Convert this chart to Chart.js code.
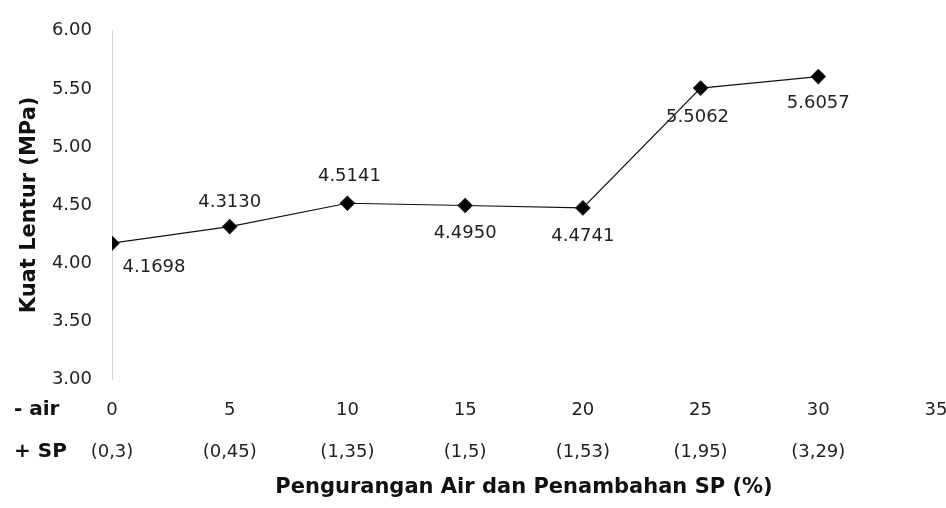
<!DOCTYPE html>
<html>
<head>
<meta charset="utf-8">
<title>Kuat Lentur</title>
<script src="https://cdn.jsdelivr.net/npm/chart.js@4/dist/chart.umd.min.js"></script>
<style>
    body { margin: 0; background: #fff; }
    #wrap { width: 946px; height: 508px; }
</style>
</head>
<body>
<div id="wrap"><canvas id="kuatChart"></canvas></div>
<script>
// pengurangan air (%) dan penambahan SP
var airValues = [0, 5, 10, 15, 20, 25, 30];
var spLabels = ['(0,3)', '(0,45)', '(1,35)', '(1,5)', '(1,53)', '(1,95)', '(3,29)'];
var kuatLentur = [4.1698, 4.3130, 4.5141, 4.4950, 4.4741, 5.5062, 5.6057];
var valueLabels = ['4.1698', '4.3130', '4.5141', '4.4950', '4.4741', '5.5062', '5.6057'];

// where each value text sits around its point (dx, dy)
var labelOffsets = [[42, 24], [0, -24], [2, -27], [0, 28], [0, 28], [-3, 29], [0, 27]];

var tickSize = 18;
var tickLine = 42;
var tickPad = 10;

Chart.defaults.font.family = "'DejaVu Sans', 'Liberation Sans', sans-serif";
Chart.defaults.color = '#222';

var points = [];
for (var i = 0; i < airValues.length; i++) {
    points.push({x: airValues[i], y: kuatLentur[i]});
}

var valueLabelPlugin = {
    id: 'valueLabels',
    afterDatasetsDraw: function (chart) {
        var ctx = chart.ctx;
        var meta = chart.getDatasetMeta(0);
        ctx.save();
        ctx.font = "18px 'DejaVu Sans'";
        ctx.fillStyle = '#222';
        ctx.textAlign = 'center';
        ctx.textBaseline = 'middle';
        meta.data.forEach(function (pt, idx) {
            var off = labelOffsets[idx];
            ctx.fillText(valueLabels[idx], pt.x + off[0], pt.y + off[1]);
        });
        ctx.restore();
    }
};

// "- air" / "+ SP" in front of the two tick rows
var rowLabelPlugin = {
    id: 'rowLabels',
    afterDraw: function (chart) {
        var ctx = chart.ctx;
        var xs = chart.scales.x;
        var row1 = xs.top + tickPad + tickLine / 2;
        ctx.save();
        ctx.font = "bold 20px 'DejaVu Sans'";
        ctx.fillStyle = '#111';
        ctx.textAlign = 'left';
        ctx.textBaseline = 'middle';
        ctx.fillText('- air', 14, row1);
        ctx.fillText('+ SP', 14, row1 + tickLine);
        ctx.restore();
    }
};

var canvas = document.getElementById('kuatChart');
var chart = new Chart(canvas.getContext('2d'), {
    type: 'scatter',
    data: {
        datasets: [{
            data: points,
            showLine: true,
            borderColor: '#111',
            borderWidth: 1.2,
            backgroundColor: '#000',
            pointStyle: 'rectRot',
            pointRadius: 7,
            pointHoverRadius: 7
        }]
    },
    options: {
        responsive: true,
        maintainAspectRatio: false,
        animation: false,
        layout: {padding: {top: 24, right: 0, bottom: 0, left: 0}},
        plugins: {
            legend: {display: false},
            tooltip: {enabled: false}
        },
        scales: {
            x: {
                type: 'linear',
                min: 0,
                max: 35,
                grid: {display: false, drawTicks: false},
                border: {display: false},
                afterFit: function (scale) {
                    scale.height = 129;
                    scale.paddingLeft = 0;
                    scale.paddingRight = 10;
                },
                ticks: {
                    stepSize: 5,
                    padding: tickPad,
                    color: '#222',
                    font: {size: tickSize, lineHeight: tickLine / tickSize},
                    callback: function (v) {
                        var k = airValues.indexOf(v);
                        return k >= 0 ? [String(v), spLabels[k]] : String(v);
                    }
                },
                title: {
                    display: true,
                    text: 'Pengurangan Air dan Penambahan SP (%)',
                    color: '#111',
                    font: {size: 21, weight: 'bold'},
                    padding: {top: 0, bottom: 8}
                }
            },
            y: {
                min: 3,
                max: 6,
                grid: {display: false, drawTicks: false},
                border: {display: true, color: '#d4d4d4', dash: [1, 4], width: 1},
                afterFit: function (scale) { scale.width = 112; },
                ticks: {
                    stepSize: 0.5,
                    padding: 20,
                    color: '#222',
                    font: {size: tickSize},
                    callback: function (v) { return v.toFixed(2); }
                },
                title: {
                    display: true,
                    text: 'Kuat Lentur (MPa)',
                    color: '#111',
                    font: {size: 21, weight: 'bold'},
                    padding: {top: 17, bottom: 0}
                }
            }
        }
    },
    plugins: [valueLabelPlugin, rowLabelPlugin]
});
</script>
</body>
</html>
